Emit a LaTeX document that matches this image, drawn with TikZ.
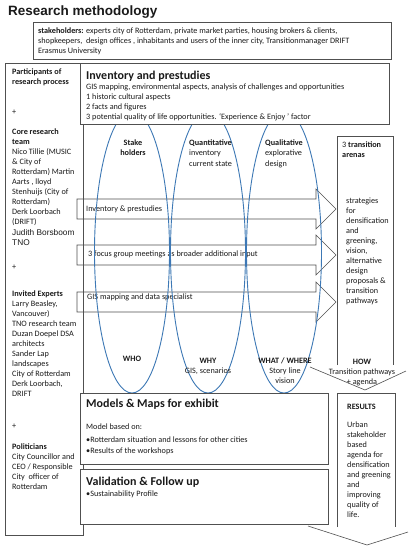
\documentclass[tikz,border=0pt]{standalone}
\usepackage{fontspec}
\setmainfont{Carlito}
\newfontfamily\arialf{Liberation Sans}
\definecolor{linec}{HTML}{505050}
\definecolor{ellc}{HTML}{3D78B5}
\definecolor{textc}{HTML}{1A1A1A}
\begin{document}
\begin{tikzpicture}[x=1pt,y=-1pt,
  box/.style={draw=linec, line width=0.6pt, fill=white},
  openbox/.style={draw=linec, line width=0.6pt},
  blockarrow/.style={draw=linec, line width=0.6pt},
  ell/.style={draw=ellc, line width=0.9pt},
  txt/.style={inner sep=0pt, anchor=base west, align=left, text=textc, font=\fontsize{8.2}{10}\selectfont},
  ctxt/.style={inner sep=0pt, anchor=base, align=center, text=textc, font=\fontsize{8.2}{10}\selectfont},
  head/.style={inner sep=0pt, anchor=base west, text=textc, font=\fontsize{12}{14}\selectfont\bfseries},
]
% note: for multi-line nodes the base anchor is the baseline of the last line
\useasboundingbox[fill=white] (0,0) rectangle (413,550);

% title
\node[inner sep=0pt, anchor=base west, text=textc, font=\arialf\fontsize{13.5}{16}\selectfont\bfseries] (title) at (8,15) {Research methodology};

% stakeholders box
\draw[box] (33,22) rectangle (391,59);
\node[txt] (stake) at (38,53) {\textbf{stakeholders:} experts city of Rotterdam, private market parties, housing brokers \& clients,\\shopkeepers,\ \ design offices , inhabitants and users of the inner city, Transitionmanager DRIFT\\Erasmus University};

% participants box
\draw[openbox] (5,63) rectangle (83,535);
\node[txt] (part) at (12,84) {\textbf{Participants of}\\\textbf{research process}};
\node[txt] (plus1) at (12,114) {+};
\node[txt] (core) at (12,224) {\textbf{Core research}\\\textbf{team}\\Nico Tillie (MUSIC\\\& City of\\Rotterdam) Martin\\Aarts , lloyd\\Stenhuijs (City of\\Rotterdam)\\Derk Loorbach\\(DRIFT)};
\node[txt, font=\arialf\fontsize{8.3}{10.5}\selectfont] (judith) at (12,245.5) {Judith Borsboom\\TNO};
\node[txt] (plus2) at (12,269) {+};
\node[txt] (invited) at (12,396) {\textbf{Invited Experts}\\Larry Beasley,\\Vancouver)\\TNO research team\\Duzan Doepel DSA\\architects\\Sander Lap\\landscapes\\City of Rotterdam\\Derk Loorbach,\\DRIFT};
\node[txt] (plus3) at (12,428) {+};
\node[txt] (pol) at (12,489) {\textbf{Politicians}\\City Councillor and\\CEO / Responsible\\City\ \ officer of\\Rotterdam};

% block arrows
\draw[blockarrow] (77,199) -- (316,199) -- (316,189) -- (336,209) -- (316,229) -- (316,219) -- (77,219) -- cycle;
\draw[blockarrow] (77,245) -- (316,245) -- (316,235) -- (336,255) -- (316,275) -- (316,265) -- (77,265) -- cycle;
\draw[blockarrow] (77,292) -- (316,292) -- (316,282) -- (336,302) -- (316,322) -- (316,312) -- (77,312) -- cycle;
\node[txt] (a1) at (86,211) {Inventory \& prestudies};
\node[txt] (a2) at (88,256) {3 focus group meetings as broader additional input};
\node[txt] (a3) at (87,299) {GIS mapping and data specialist};

% ellipses
\draw[ell] (132,252) ellipse [x radius=37.5, y radius=141];
\draw[ell] (208,252) ellipse [x radius=37.5, y radius=141];
\draw[ell] (284,252) ellipse [x radius=37.5, y radius=141];

% inventory box
\draw[box] (80,63) rectangle (389,124);
\node[head] (inv) at (86,79) {Inventory and prestudies};
\node[txt] (invt) at (86,119) {GIS mapping, environmental aspects, analysis of challenges and opportunities\\1 historic cultural aspects\\2 facts and figures\\3 potential quality of life opportunities. `Experience \& Enjoy ' factor};

% column labels
\node[ctxt] (c1) at (133,155) {\textbf{Stake}\\\textbf{holders}};
\node[txt, font=\fontsize{8.2}{10.5}\selectfont] (c2) at (189,166) {\textbf{Quantitative}\\inventory\\current state};
\node[txt, font=\fontsize{8.2}{10.5}\selectfont] (c3) at (265,166) {\textbf{Qualitative}\\explorative\\design};
\node[ctxt] (who) at (132,361) {\textbf{WHO}};
\node[ctxt] (why) at (208,373) {\textbf{WHY}\\GIS, scenarios};
\node[ctxt] (what) at (285,383) {\textbf{WHAT / WHERE}\\Story line\\vision};

% transition arenas down arrow
\fill[white] (337,136) -- (337,365) -- (310,367) -- (365,390) -- (406,371) -- (393,365) -- (393,136) -- cycle;
\draw[openbox] (337,365) -- (337,136) -- (393,136) -- (393,365);
\draw[openbox] (310,367) -- (365,390) -- (406,371);
\node[txt] (arena) at (342,157) {3 \textbf{transition}\\\textbf{arenas}};
\node[txt] (strat) at (346,303) {strategies\\for\\densification\\and\\greening,\\vision,\\alternative\\design\\proposals \&\\transition\\pathways};
\node[ctxt] (how) at (362,384) {\textbf{HOW}\\Transition pathways\\+ agenda};

% models box
\draw[box] (80,393) rectangle (328,464);
\node[head] (models) at (86,407) {Models \& Maps for exhibit};
\node[txt] (modt) at (86,429) {Model based on:};
\node[txt, font=\fontsize{8.2}{11}\selectfont] (modb) at (86,453) {•Rotterdam situation and lessons for other cities\\•Results of the workshops};

% validation box
\draw[box] (80,469) rectangle (328,524);
\node[head] (valid) at (86,485) {Validation \& Follow up};
\node[txt] (validt) at (86,496) {•Sustainability Profile};

% results down arrow
\draw[openbox] (337,527) -- (337,393) -- (395,393) -- (395,527);
\draw[openbox] (308,526) -- (367,545) -- (408,532);
\node[txt] (res) at (347,409) {\textbf{RESULTS}};
\node[txt] (rest) at (347,517) {Urban\\stakeholder\\based\\agenda for\\densification\\and greening\\and\\improving\\quality of\\life.};
\end{tikzpicture}
\end{document}
